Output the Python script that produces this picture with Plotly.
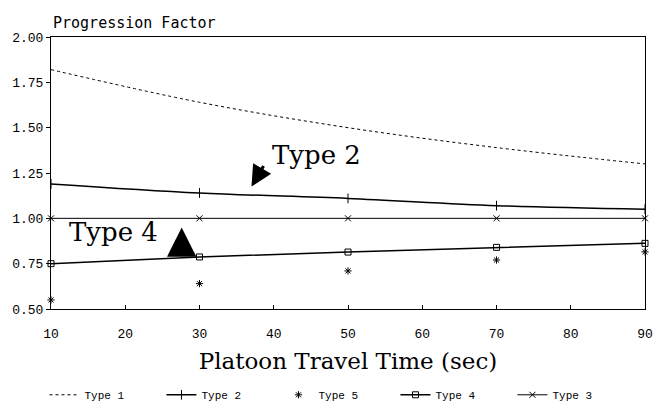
import plotly.graph_objects as go

x_vals = [10, 30, 50, 70, 90]
type1 = [1.82, 1.64, 1.50, 1.39, 1.30]
type2 = [1.19, 1.14, 1.11, 1.07, 1.05]
type5 = [0.55, 0.64, 0.71, 0.77, 0.815]
type4 = [0.75, 0.787, 0.814, 0.84, 0.862]
type3 = [1.00, 1.00, 1.00, 1.00, 1.00]

x_ticks = [10, 20, 30, 40, 50, 60, 70, 80, 90]
y_ticks = [0.50, 0.75, 1.00, 1.25, 1.50, 1.75, 2.00]

fig = go.Figure()
fig.add_trace(go.Scatter(x=x_vals, y=type1, name="Type 1", mode="lines",
                         line=dict(color="black", width=1, dash="dot", shape="spline")))
fig.add_trace(go.Scatter(x=x_vals, y=type2, name="Type 2", mode="lines+markers",
                         cliponaxis=False,
                         line=dict(color="black", width=1.5, shape="spline"),
                         marker=dict(symbol="line-ns", size=7, color="black",
                                     line=dict(width=1, color="black"))))
fig.add_trace(go.Scatter(x=x_vals, y=type5, name="Type 5", mode="markers",
                         cliponaxis=False,
                         marker=dict(symbol="asterisk", size=6, color="black",
                                     line=dict(width=1, color="black"))))
fig.add_trace(go.Scatter(x=x_vals, y=type4, name="Type 4", mode="lines+markers",
                         cliponaxis=False,
                         line=dict(color="black", width=1.5),
                         marker=dict(symbol="square-open", size=6, color="black",
                                     line=dict(width=1, color="black"))))
fig.add_trace(go.Scatter(x=x_vals, y=type3, name="Type 3", mode="lines+markers",
                         cliponaxis=False,
                         line=dict(color="black", width=1),
                         marker=dict(symbol="x-thin", size=6, color="black",
                                     line=dict(width=1, color="black"))))

fig.add_annotation(x=37.0, y=1.175, ax=13, ay=-22, text="", showarrow=True,
                   arrowhead=2, arrowsize=1.4, arrowwidth=3, arrowcolor="black",
                   xref="x", yref="y")
fig.add_annotation(x=45.8, y=1.35, text="Type 2", showarrow=False,
                   font=dict(family="DejaVu Serif", size=26, color="black"))
fig.add_annotation(x=27.6, y=0.95, ax=0, ay=12, text="", showarrow=True,
                   arrowhead=2, arrowsize=1.3, arrowwidth=4.5, arrowcolor="black",
                   xref="x", yref="y")
fig.add_annotation(x=18.4, y=0.925, text="Type 4", showarrow=False,
                   font=dict(family="DejaVu Serif", size=26, color="black"))
fig.add_annotation(x=0, y=1.0, xref="paper", yref="paper", xanchor="left",
                   yanchor="bottom", yshift=3, text="Progression Factor",
                   showarrow=False,
                   font=dict(family="DejaVu Sans Mono", size=15, color="black"))

fig.update_layout(
    width=654, height=407,
    margin=dict(l=51, r=9, t=37, b=98, autoexpand=False),
    paper_bgcolor="white", plot_bgcolor="white",
    showlegend=True,
    legend=dict(orientation="h", xref="container", x=0.068, xanchor="left",
                yref="container", y=0.03, yanchor="middle",
                font=dict(family="Liberation Mono", size=11, color="black"),
                entrywidth=72, entrywidthmode="pixels", itemwidth=30,
                traceorder="normal"),
    font=dict(family="Liberation Mono", color="black"),
)
fig.update_xaxes(range=[10, 90], tickvals=x_ticks, ticks="inside", ticklen=4,
                 tickcolor="black", showline=True, linecolor="black", linewidth=1,
                 mirror=True, showgrid=False, zeroline=False, ticklabelstandoff=12,
                 automargin=False,
                 tickfont=dict(family="Liberation Mono", size=13, color="black"),
                 title=dict(text="Platoon Travel Time (sec)", standoff=12,
                            font=dict(family="DejaVu Serif", size=23, color="black")))
fig.update_yaxes(range=[0.5, 2.0], tickvals=y_ticks, tickformat=".2f",
                 ticks="outside", ticklen=4, tickcolor="black", showline=True,
                 linecolor="black", linewidth=1, mirror=True, showgrid=False,
                 zeroline=False, automargin=False,
                 tickfont=dict(family="Liberation Mono", size=13, color="black"))

fig.write_html("out.html")
